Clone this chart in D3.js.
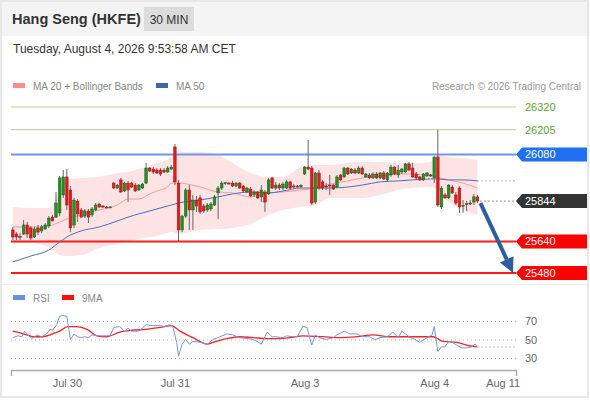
<!DOCTYPE html>
<html>
<head>
<meta charset="utf-8">
<script src="https://cdn.jsdelivr.net/npm/d3@7/dist/d3.min.js"></script>
<style>
  body { margin: 0; background: #fff; }
  text { font-family: "Liberation Sans", Arial, sans-serif; }
</style>
</head>
<body>
<svg id="chart" width="590" height="400"></svg>
<script>
// 30 min candles, one entry per bar (index 0 = first bar on the left)
const opens = [25698,25677,25665,25677,25723,25708,25662,25708,25693,25703,
  25718,25763,25763,25784,25875,25966,25900,25723,25844,25799,
  25768,25794,25774,25799,25829,25819,25814,25814,25935,25910,
  25951,25895,25935,25935,25925,25900,25910,25935,26011,26006,
  26001,26001,26001,25991,26006,26118,25935,25698,25768,25900,
  25799,25849,25860,25819,25799,25804,25824,25885,25910,25935,
  25935,25935,25920,25935,25920,25890,25905,25875,25890,25865,
  25890,25880,25961,25910,25925,25910,25910,25941,25920,25920,
  25920,25981,26016,26011,25839,25986,25941,25920,25925,25925,
  25915,25976,25966,26011,25986,26001,25986,26011,25966,25976,
  25961,25981,25961,25986,25951,25976,26016,25976,25991,25991,
  26032,26011,25981,25966,25951,25971,25976,25961,26067,25814,
  25875,25860,25915,25875,25910,25819,25829,25834,25839,25865];
const highs = [25713,25687,25682,25748,25738,25718,25713,25723,25723,25733,
  25768,25774,25890,25971,26001,26006,25920,25860,25854,25809,
  25804,25804,25814,25834,25834,25824,25819,25819,25941,25930,
  25961,25941,25946,25941,25935,25930,25935,26037,26016,26016,
  26011,26011,26011,26021,26027,26133,25951,25774,25910,25925,
  25875,25870,25875,25829,25834,25839,25875,25920,25946,25941,
  25941,25946,25941,25941,25925,25915,25915,25900,25895,25925,
  25900,25961,25966,25941,25935,25941,25951,25946,25930,25925,
  25930,26021,26153,26021,25991,26001,25951,25935,25976,25930,
  25976,25981,26016,26016,26011,26011,26021,26021,25986,25986,
  25991,25991,25991,25996,25991,26027,26021,26027,26011,26037,
  26042,26037,25991,25971,25986,25991,25981,26070,26204,25920,
  25885,25930,25925,25890,25920,25849,25844,25849,25880,25875];
const lows = [25647,25647,25647,25672,25657,25647,25657,25672,25682,25698,
  25708,25743,25758,25768,25860,25799,25687,25708,25738,25758,
  25758,25733,25763,25794,25809,25809,25809,25809,25905,25905,
  25885,25890,25839,25910,25890,25895,25905,25930,25991,25981,
  25981,25971,25986,25986,26001,25925,25637,25687,25758,25698,
  25698,25789,25779,25784,25789,25794,25819,25753,25900,25925,
  25930,25915,25915,25905,25890,25885,25865,25865,25854,25839,
  25789,25875,25905,25900,25900,25900,25905,25905,25910,25915,
  25910,25976,26001,25824,25829,25900,25900,25900,25875,25900,
  25910,25946,25961,25976,25981,25981,25981,25976,25961,25956,
  25956,25956,25956,25951,25941,25966,25976,25961,25981,25986,
  25996,25961,25951,25946,25946,25966,25966,25935,25814,25804,
  25854,25854,25880,25824,25784,25784,25794,25824,25824,25834];
const closes = [25662,25662,25662,25723,25677,25657,25703,25687,25713,25723,
  25758,25743,25834,25961,25966,25824,25708,25849,25779,25763,
  25794,25763,25804,25824,25814,25817,25812,25814,25910,25925,
  25890,25935,25900,25915,25895,25925,25930,26011,25996,25991,
  25986,25981,25991,26011,26016,25941,25698,25768,25900,25799,
  25849,25819,25789,25794,25824,25829,25865,25910,25935,25937,
  25933,25920,25935,25910,25895,25910,25870,25890,25860,25900,
  25839,25951,25910,25925,25910,25930,25941,25910,25918,25919,
  25922,26016,26006,25834,25986,25910,25910,25918,25924,25905,
  25966,25951,26011,25981,26006,25986,26011,25981,25981,25961,
  25981,25961,25986,25956,25986,26016,25981,26001,26006,26032,
  26001,25966,25961,25951,25981,25986,25975,26067,25824,25910,
  25860,25925,25885,25834,25814,25822,25831,25833,25865,25844];

// MA 20, Bollinger bands and MA 50 at these bar indices
const bandIdx = [0,5,10,13,15,19,24,29,32,35,38,40,43,44,46,52,57,61,66,71,
  75,80,84,88,93,97,102,107,111,116,117,118,121,125,129];
const ma20 = [25713,25713,25718,25738,25753,25774,25799,25824,25854,25854,
  25880,25895,25915,25935,25935,25915,25890,25885,25865,25885,
  25890,25900,25910,25930,25946,25961,25971,25981,25981,25976,
  25976,25966,25951,25935,25910];
const bbUpper = [25814,25809,25809,25900,25951,25961,25966,25986,25991,26006,
  26021,26037,26052,26067,26092,26092,26077,26037,25986,25966,
  25966,26016,26027,26027,26037,26042,26042,26037,26037,26042,
  26072,26077,26067,26062,26052];
const bbLower = [25632,25632,25612,25571,25566,25571,25607,25627,25642,25652,
  25662,25667,25682,25687,25677,25698,25703,25708,25728,25774,
  25799,25814,25824,25860,25860,25860,25875,25900,25910,25915,
  25910,25900,25839,25799,25774];
const ma50 = [25536,25566,25596,25637,25662,25693,25713,25743,25763,25779,
  25794,25804,25819,25824,25834,25849,25865,25880,25890,25885,
  25895,25910,25910,25910,25915,25925,25941,25946,25951,25956,
  25956,25956,25951,25951,25946];

// RSI and its 9 period average
const rsiIdx = [0,1.4,2.5,3.3,4.2,5.3,6.7,8,9.4,10.3,11,12.2,13,13.9,15,16,17,18,19,20,
  21,22,23.6,25,27,28,29.7,31,32,33,34,35,37,39,41,42,43.6,44.4,45.5,46,
  47,48,49,50,52,54,55.6,57.5,59.4,61,63,65,66.7,67.8,69,70.6,72,73,75,76,
  77.5,79,80.5,81.7,82.2,83,84,85,87,89,90,92,93.6,95.6,97,99,100.5,102,104,105.5,
  107,108,110,111.7,113,115,116.4,117,118,119,120,121,122,123.6,124.7,126,127.5,128.3,129];
const rsiVals = [52,54,53,59,55,51,55,53,56,61,60,66,75,76,75,50,56,53,52,53,
  52,55,54,54,54,63,64,59,62,59,59,59,66,65,65,64,66,64,47,32,
  45,50,45,48,47,45,50,53,56,55,52,51,50,48,45,58,53,53,52,54,
  53,53,64,63,55,44,55,52,50,52,55,59,56,56,53,53,50,52,53,58,
  52,59,53,50,47,52,55,64,37,42,42,48,47,43,41,41,42,45,42];
const rsiMaIdx = [0,3.9,5.6,8.3,11,13,15.3,17.8,20.6,23.3,26,29.7,33,37,41,44,46.4,50,54,55.6,
  59.4,63,66.7,70.6,74,77,80.5,86,90.8,95.6,100,104.7,109.4,116.7,119.4,123.3,126,128.9];
const rsiMaVals = [59,55,53,53,56,59,64,64,61,54,53,58,60,61,63,65,59,52,45,47,
  51,53,52,51,51,52,54,53,52,53,55,53,53,53,48,47,44,42];
const rsiTicks = [30, 50, 70];

// key levels on the right
const levelValues = [26320, 26205, 26080, 25844, 25640, 25480];
const levelKinds = ["resist", "resist", "pivot", "last", "support", "support"];
const target = 25480;

// time axis
const tickIdx = [15, 45, 81, 117, 136];
const tickLabels = ["Jul 30", "Jul 31", "Aug 3", "Aug 4", "Aug 11"];


const svg = d3.select("#chart");
const lastBar = closes.length - 1;

const x = d3.scaleLinear().domain([-0.5, 139.7]).range([11, 516]);
const y = d3.scaleLinear().domain([25480, 26320]).range([273, 107]);
const yRsi = d3.scaleLinear().domain([30, 70]).range([358, 321]);


// frame and header
svg.append("rect").attr("width", 590).attr("height", 400).attr("fill", "#fff");
svg.append("rect").attr("width", 590).attr("height", 36).attr("fill", "#f4f4f4");
svg.append("rect").attr("x", 1).attr("y", 1).attr("width", 587).attr("height", 396)
  .attr("fill", "none").attr("stroke", "#e8e8e8").attr("stroke-width", 2);
svg.append("line").attr("x1", 2).attr("x2", 587).attr("y1", 284.5).attr("y2", 284.5)
  .attr("stroke", "#efefef");

svg.append("text").attr("x", 12).attr("y", 24)
  .attr("font-size", 14.5).attr("font-weight", "bold").attr("fill", "#333")
  .text("Hang Seng (HKFE)");
svg.append("rect").attr("x", 144).attr("y", 7).attr("width", 50).attr("height", 24)
  .attr("fill", "#dcdcdc");
svg.append("text").attr("x", 169).attr("y", 24).attr("text-anchor", "middle")
  .attr("font-size", 12).attr("fill", "#333").text("30 MIN");
svg.append("text").attr("x", 13).attr("y", 53)
  .attr("font-size", 12).attr("fill", "#333")
  .text("Tuesday, August 4, 2026 9:53:58 AM CET");


// legends
function legendItem(xPos, yPos, color, label) {
  svg.append("rect").attr("x", xPos).attr("y", yPos - 3).attr("width", 12).attr("height", 5)
    .attr("fill", color);
  svg.append("text").attr("x", xPos + 20).attr("y", yPos + 3.5)
    .attr("font-size", 10).attr("fill", "#888").text(label);
}
legendItem(13, 86, "#ff8c8c", "MA 20 + Bollinger Bands");
legendItem(156, 86, "#3d66aa", "MA 50");
legendItem(13, 298, "#6b8ee6", "RSI");
legendItem(62, 298, "#ff1010", "9MA");

svg.append("text").attr("x", 581).attr("y", 89.5).attr("text-anchor", "end")
  .attr("font-size", 10).attr("fill", "#999")
  .text("Research \u00a9 2026 Trading Central");


// bollinger band, drawn first so everything sits on top
const bandRows = bandIdx.map(function(d, i) {
  return { i: d, up: bbUpper[i], lo: bbLower[i], mid: ma20[i], slow: ma50[i] };
});

svg.append("path").datum(bandRows)
  .attr("fill", "#fde3e3")
  .attr("d", d3.area()
    .x(d => x(d.i)).y0(d => y(d.lo)).y1(d => y(d.up))
    .curve(d3.curveMonotoneX));


// horizontal levels
const levelStyle = {
  resist:  { line: "#a8d48a", width: 1, box: null, text: "#5aa62e" },
  pivot:   { line: "#6f95ea", width: 2, box: "#1f6ff2", text: "#fff" },
  last:    { line: null, width: 1, box: "#333333", text: "#fff" },
  support: { line: "#ff1a1a", width: 2, box: "#ff0000", text: "#fff" }
};

levelValues.forEach(function(v, i) {
  const st = levelStyle[levelKinds[i]];
  const yv = y(v);
  if (st.line) {
    svg.append("line").attr("x1", 11).attr("x2", 516).attr("y1", yv).attr("y2", yv)
      .attr("stroke", st.line).attr("stroke-width", st.width);
  } else {
    // last price: dotted from the last candle to the label
    svg.append("line").attr("x1", x(lastBar) + 3).attr("x2", 516).attr("y1", yv).attr("y2", yv)
      .attr("stroke", "#333").attr("stroke-dasharray", "1,3");
  }
  if (st.box) {
    svg.append("polygon")
      .attr("points", [[516, yv], [522, yv - 7], [587, yv - 7], [587, yv + 7], [522, yv + 7]].join(" "))
      .attr("fill", st.box);
  }
  svg.append("text").attr("x", 525).attr("y", yv + 4)
    .attr("font-size", 11).attr("fill", st.text).text(v);
});


// moving averages
svg.append("path").datum(bandRows)
  .attr("fill", "none").attr("stroke", "#ff9a9a").attr("stroke-width", 1)
  .attr("d", d3.line().x(d => x(d.i)).y(d => y(d.mid)).curve(d3.curveMonotoneX));

svg.append("path").datum(bandRows)
  .attr("fill", "none").attr("stroke", "#4a70b8").attr("stroke-width", 1)
  .attr("d", d3.line().x(d => x(d.i)).y(d => y(d.slow)).curve(d3.curveMonotoneX));

svg.append("line")
  .attr("x1", x(lastBar)).attr("x2", 516)
  .attr("y1", y(ma50[ma50.length - 1])).attr("y2", y(ma50[ma50.length - 1]))
  .attr("stroke", "#4a70b8").attr("stroke-dasharray", "1,3");


// candles
const bars = svg.append("g").selectAll("g")
  .data(closes)
  .enter()
  .append("g");

bars.append("line")
  .attr("x1", (d, i) => x(i)).attr("x2", (d, i) => x(i))
  .attr("y1", (d, i) => y(highs[i])).attr("y2", (d, i) => y(lows[i]))
  .attr("stroke", "#666").attr("stroke-width", 1);

bars.append("rect")
  .attr("x", (d, i) => x(i) - 1.3)
  .attr("width", 2.6)
  .attr("y", (d, i) => y(Math.max(opens[i], d)))
  .attr("height", (d, i) => Math.max(1, Math.abs(y(opens[i]) - y(d))))
  .attr("fill", (d, i) => d >= opens[i] ? "#239023" : "#e31b1b")
  .attr("stroke", (d, i) => d >= opens[i] ? "#17601a" : "#9c1414")
  .attr("stroke-width", 0.5);


// target arrow from last close down to the support target
function drawArrow() {
  const sx = x(lastBar) + 3, sy = y(closes[lastBar]) + 2;
  const tx = 513, ty = y(target);
  const len = Math.hypot(tx - sx, ty - sy);
  const dx = (tx - sx) / len, dy = (ty - sy) / len;
  const bx = tx - 15 * dx, by = ty - 15 * dy;

  svg.append("line").attr("x1", sx).attr("y1", sy).attr("x2", bx).attr("y2", by)
    .attr("stroke", "#2f5e9e").attr("stroke-width", 4);
  svg.append("polygon")
    .attr("points", [[tx, ty], [bx - 7.5 * dy, by + 7.5 * dx], [bx + 7.5 * dy, by - 7.5 * dx]].join(" "))
    .attr("fill", "#2f5e9e");
}
drawArrow();


// RSI panel
const rsiAxis = svg.append("g")
  .attr("transform", "translate(516,0)")
  .call(d3.axisRight(yRsi).tickValues(rsiTicks).tickSizeInner(-505).tickSizeOuter(0).tickPadding(9));
rsiAxis.select(".domain").remove();
rsiAxis.selectAll(".tick line").attr("stroke", "#bbb").attr("stroke-dasharray", "1,3");
rsiAxis.selectAll(".tick text").attr("font-size", 11).attr("fill", "#666")
  .attr("font-family", "Liberation Sans, Arial, sans-serif");

const rsiRows = rsiIdx.map((d, i) => ({ i: d, v: rsiVals[i] }));
const rsiMaRows = rsiMaIdx.map((d, i) => ({ i: d, v: rsiMaVals[i] }));

svg.append("path").datum(rsiMaRows)
  .attr("fill", "none").attr("stroke", "#ff2020").attr("stroke-width", 1.3)
  .attr("d", d3.line().x(d => x(d.i)).y(d => yRsi(d.v)).curve(d3.curveMonotoneX));

svg.append("path").datum(rsiRows)
  .attr("fill", "none").attr("stroke", "#7596ea").attr("stroke-width", 1)
  .attr("d", d3.line().x(d => x(d.i)).y(d => yRsi(d.v)));

svg.append("line")
  .attr("x1", x(rsiIdx[rsiIdx.length - 1])).attr("x2", 516)
  .attr("y1", yRsi(rsiVals[rsiVals.length - 1])).attr("y2", yRsi(rsiVals[rsiVals.length - 1]))
  .attr("stroke", "#7596ea").attr("stroke-dasharray", "1,3");


// time axis with the end brackets of the domain path
const xAxis = svg.append("g")
  .attr("transform", "translate(0,370)")
  .call(d3.axisBottom(x).tickValues(tickIdx)
    .tickFormat((d, i) => tickLabels[i])
    .tickSizeInner(0).tickSizeOuter(6).tickPadding(9));
xAxis.select(".domain").attr("stroke", "#aaa").attr("stroke-width", 1.5);
xAxis.selectAll(".tick text").attr("font-size", 11).attr("fill", "#666")
  .attr("font-family", "Liberation Sans, Arial, sans-serif");
</script>
</body>
</html>
